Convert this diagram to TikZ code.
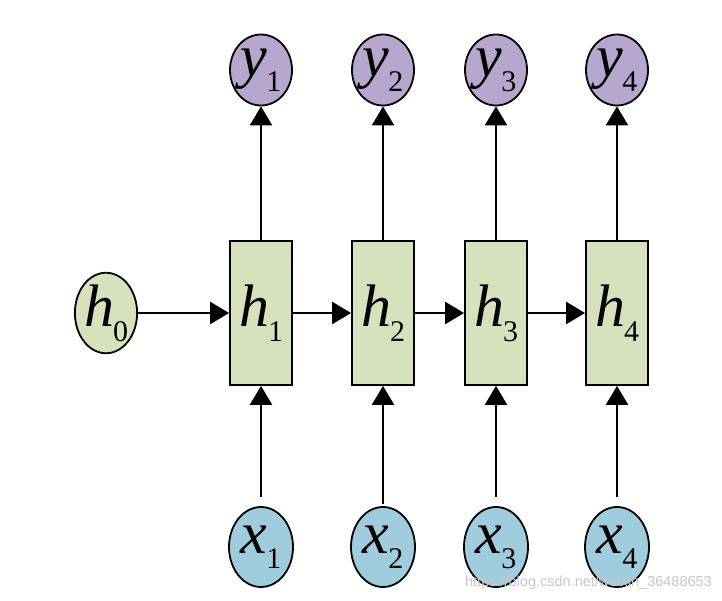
\documentclass[tikz,border=0pt]{standalone}
\usepackage{fontspec}
\setmainfont{Liberation Serif}
\newfontfamily\wmfont{Liberation Sans}
\usetikzlibrary{arrows.meta,shapes.geometric}

\definecolor{hgreen}{RGB}{214,226,190}
\definecolor{ypurple}{RGB}{183,166,206}
\definecolor{xblue}{RGB}{160,205,222}

% letter with a large lowered index
\newcommand{\lab}[2]{{\fontsize{60}{60}\selectfont\itshape #1}\kern-1pt\raisebox{-15pt}{\fontsize{30}{30}\selectfont #2}}

\begin{document}
\begin{tikzpicture}[x=1pt, y=1pt,
  >={Triangle[length=19pt,width=22pt]},
  hidden/.style={draw, line width=1.8pt, fill=hgreen, minimum width=62pt, minimum height=144pt, inner sep=0pt},
  start/.style={draw, ellipse, line width=1.8pt, fill=hgreen, minimum width=62pt, minimum height=80pt, inner sep=0pt},
  output/.style={draw, ellipse, line width=1.8pt, fill=ypurple, minimum width=62pt, minimum height=71pt, inner sep=0pt},
  input/.style={draw, ellipse, line width=1.8pt, fill=xblue, minimum width=64pt, minimum height=80pt, inner sep=0pt},
  link/.style={->, line width=2.4pt}]

  \useasboundingbox (0,0) rectangle (722,600);

  \node [start] (H0) at (106,287) {\lab{h}{0}};
  \node [hidden] (H1) at (261,287) {\lab{h}{1}};
  \node [hidden] (H2) at (383,287) {\lab{h}{2}};
  \node [hidden] (H3) at (496,287) {\lab{h}{3}};
  \node [hidden] (H4) at (617,287) {\lab{h}{4}};

  \node [output] (Y1) at (261,530) {\lab{y}{1}};
  \node [output] (Y2) at (383,530) {\lab{y}{2}};
  \node [output] (Y3) at (496,530) {\lab{y}{3}};
  \node [output] (Y4) at (617,530) {\lab{y}{4}};

  \node [input] (X1) at (261,53) {\lab{x}{1}};
  \node [input] (X2) at (383,53) {\lab{x}{2}};
  \node [input] (X3) at (496,53) {\lab{x}{3}};
  \node [input] (X4) at (617,53) {\lab{x}{4}};

  \draw [link] (H0) -- (H1);
  \draw [link] (H1) -- (H2);
  \draw [link] (H2) -- (H3);
  \draw [link] (H3) -- (H4);

  \draw [link] (H1) -- (Y1);
  \draw [link] (H2) -- (Y2);
  \draw [link] (H3) -- (Y3);
  \draw [link] (H4) -- (Y4);

  \draw [link, shorten <=9pt] (X1) -- (H1);
  \draw [link, shorten <=2pt] (X2) -- (H2);
  \draw [link, shorten <=9pt] (X3) -- (H3);
  \draw [link, shorten <=9pt] (X4) -- (H4);

  \node [anchor=base east, inner sep=0pt, text=white!78!black] (mark) at (712,14)
    {\wmfont\fontsize{14.5}{15}\selectfont https://blog.csdn.net/weixin\_36488653};
\end{tikzpicture}
\end{document}
